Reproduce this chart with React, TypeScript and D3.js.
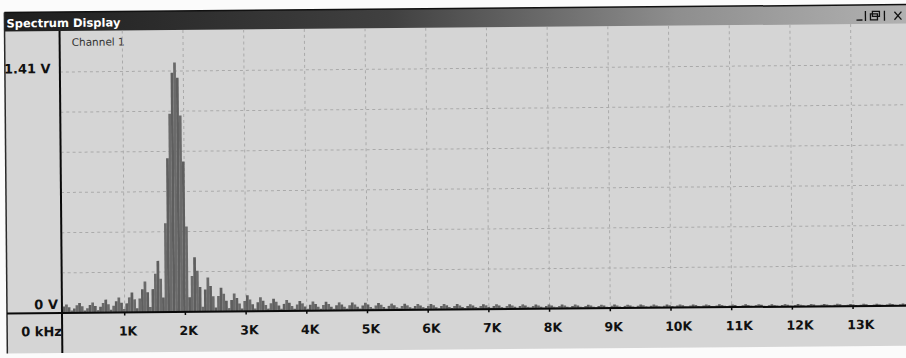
import React from "react";
import * as d3 from "d3";

// spectrum of one channel: FFT bins around a ~1.86 kHz carrier
const carrierKHz = 1.855;
const binKHz = 0.0432;
const firstBin = -45; // bin index of the first value below

// lower sidelobes, far -> near (each row: gap bin + 4 lobe bins), volts
const lowerSidebands = [
  [0.012, 0.022, 0.038, 0.05, 0.033],
  [0.014, 0.026, 0.044, 0.058, 0.038],
  [0.014, 0.027, 0.045, 0.06, 0.039],
  [0.015, 0.034, 0.057, 0.076, 0.049],
  [0.017, 0.04, 0.066, 0.088, 0.057],
  [0.02, 0.053, 0.088, 0.117, 0.076],
  [0.024, 0.081, 0.135, 0.18, 0.117],
  [0.03, 0.135, 0.225, 0.3, 0.195],
];

// main lobe, bins -5..5
const mainLobe = [0.085, 0.52, 0.9, 1.16, 1.4, 1.46, 1.37, 1.15, 0.88, 0.5, 0.085];

// upper sidelobes, near -> far (each row: 4 lobe bins + gap bin), volts
const upperSidebands = [
  [0.21, 0.32, 0.24, 0.145, 0.03],
  [0.13, 0.2, 0.15, 0.09, 0.024],
  [0.091, 0.14, 0.105, 0.063, 0.02],
  [0.068, 0.105, 0.079, 0.047, 0.017],
  [0.061, 0.094, 0.07, 0.042, 0.016],
  [0.053, 0.082, 0.062, 0.037, 0.015],
  [0.047, 0.073, 0.055, 0.033, 0.014],
  [0.042, 0.064, 0.048, 0.029, 0.013],
  [0.038, 0.058, 0.044, 0.026, 0.012],
  [0.035, 0.054, 0.04, 0.024, 0.012],
  [0.034, 0.052, 0.039, 0.023, 0.011],
  [0.031, 0.048, 0.036, 0.022, 0.011],
  [0.031, 0.047, 0.035, 0.021, 0.011],
  [0.029, 0.045, 0.034, 0.02, 0.01],
  [0.028, 0.043, 0.032, 0.019, 0.01],
  [0.025, 0.038, 0.029, 0.017, 0.01],
  [0.023, 0.036, 0.027, 0.016, 0.01],
  [0.023, 0.035, 0.026, 0.016, 0.01],
  [0.022, 0.034, 0.026, 0.015, 0.009],
  [0.021, 0.033, 0.025, 0.015, 0.009],
  [0.021, 0.032, 0.024, 0.014, 0.009],
  [0.02, 0.031, 0.023, 0.014, 0.009],
  [0.02, 0.03, 0.023, 0.014, 0.009],
  [0.019, 0.029, 0.022, 0.013, 0.008],
  [0.018, 0.028, 0.021, 0.013, 0.008],
  [0.018, 0.027, 0.02, 0.012, 0.008],
  [0.017, 0.026, 0.02, 0.012, 0.008],
  [0.016, 0.025, 0.019, 0.011, 0.008],
  [0.016, 0.024, 0.018, 0.011, 0.007],
  [0.015, 0.023, 0.017, 0.01, 0.007],
  [0.014, 0.022, 0.017, 0.01, 0.007],
  [0.014, 0.021, 0.016, 0.009, 0.007],
  [0.014, 0.021, 0.016, 0.009, 0.007],
  [0.013, 0.02, 0.015, 0.009, 0.006],
  [0.013, 0.02, 0.015, 0.009, 0.006],
  [0.012, 0.019, 0.014, 0.009, 0.006],
  [0.012, 0.019, 0.014, 0.009, 0.006],
  [0.012, 0.018, 0.014, 0.008, 0.006],
  [0.012, 0.018, 0.014, 0.008, 0.006],
  [0.011, 0.017, 0.013, 0.008, 0.006],
  [0.011, 0.017, 0.013, 0.008, 0.006],
  [0.01, 0.016, 0.012, 0.007, 0.005],
  [0.01, 0.016, 0.012, 0.007, 0.005],
  [0.01, 0.016, 0.012, 0.007, 0.005],
  [0.01, 0.015, 0.011, 0.007, 0.005],
  [0.01, 0.015, 0.011, 0.007, 0.005],
  [0.01, 0.015, 0.011, 0.007, 0.005],
  [0.009, 0.014, 0.011, 0.006, 0.005],
  [0.009, 0.014, 0.011, 0.006, 0.005],
  [0.009, 0.014, 0.011, 0.006, 0.005],
  [0.008, 0.013, 0.01, 0.006, 0.004],
  [0.008, 0.013, 0.01, 0.006, 0.004],
  [0.008, 0.013, 0.01, 0.006, 0.004],
  [0.008, 0.013, 0.01, 0.006, 0.004],
  [0.008, 0.013, 0.01, 0.006, 0.004],
];

const tickKHz = [1, 2, 3, 4, 5, 6, 7, 8, 9, 10, 11, 12, 13];
const tickLabels = ["1K", "2K", "3K", "4K", "5K", "6K", "7K", "8K", "9K", "10K", "11K", "12K", "13K"];
const gridKHz = [1, 2, 3, 4, 5, 6, 7, 8, 9, 10, 11, 12, 13, 14];
const gridVolts = [0.235, 0.47, 0.705, 0.94, 1.175, 1.41];
const topVolts = 1.41;

const W = 906;
const H = 358;

export default function App() {
  const axisX = 62;
  const baseY = 313;
  const winLeft = 7;
  const winTop = 12;
  const winBottom = 353;
  const titleH = 19;

  const x = d3.scaleLinear().domain([0, 14]).range([64, 64 + 14 * 60.7]);
  const y = d3.scaleLinear().domain([0, topVolts]).range([baseY, 72]);

  const values = [...lowerSidebands.flat(), ...mainLobe, ...upperSidebands.flat()];
  const bins = values.map((v, j) => ({ f: carrierKHz + (firstBin + j) * binKHz, v }));
  const bw = x(binKHz) - x(0);

  const font = "'DejaVu Sans', Verdana, sans-serif";

  return (
    <svg
      width={W}
      height={H}
      style={{ position: "absolute", left: 0, top: 0, background: "#fbfbfb" }}
    >
      <defs>
        <linearGradient id="title" x1="0" x2="1" y1="0" y2="0">
          <stop offset="0" stopColor="#1e1e1e" />
          <stop offset="0.4" stopColor="#404040" />
          <stop offset="0.7" stopColor="#8e8e8e" />
          <stop offset="1" stopColor="#bababa" />
        </linearGradient>
        <clipPath id="plot">
          <rect x={axisX + 1} y={winTop + titleH} width={900} height={baseY - winTop - titleH} />
        </clipPath>
      </defs>

      {/* scanned page is slightly rotated */}
      <g transform={`rotate(-0.5 ${axisX} ${baseY})`}>
        <rect x={winLeft} y={winTop} width={960} height={winBottom - winTop} fill="#d5d5d5" />
        <rect x={winLeft} y={winTop} width={960} height={titleH} fill="url(#title)" />
        <line x1={winLeft} x2={970} y1={winTop} y2={winTop} stroke="#111" strokeWidth={1.5} />
        <line x1={winLeft} x2={winLeft} y1={winTop} y2={winBottom} stroke="#2a2a2a" strokeWidth={1.5} />

        <text x={9} y={27} fill="#fff" fontFamily={font} fontWeight="bold" fontSize={11.5}>
          Spectrum Display
        </text>

        {/* window buttons */}
        <g stroke="#111" fill="none" strokeWidth={1.3}>
          <line x1={859} x2={865} y1={27} y2={27} />
          <line x1={868} x2={868} y1={18} y2={28} />
          <rect x={873} y={21} width={7} height={6} />
          <rect x={875} y={18.5} width={7} height={5} />
          <line x1={887} x2={887} y1={18} y2={28} />
          <path d="M897,19 L904,27 M904,19 L897,27" />
        </g>

        <text x={74} y={46} fill="#333" fontFamily={font} fontSize={10.5}>
          Channel 1
        </text>

        <g clipPath="url(#plot)">
          {gridKHz.map((k) => (
            <line
              key={"gx" + k}
              x1={x(k)}
              x2={x(k)}
              y1={winTop + titleH}
              y2={baseY}
              stroke="#aaaaaa"
              strokeWidth={1}
              strokeDasharray="3 3"
            />
          ))}
          {gridVolts.map((v) => (
            <line
              key={"gy" + v}
              x1={axisX}
              x2={960}
              y1={y(v)}
              y2={y(v)}
              stroke="#aaaaaa"
              strokeWidth={1}
              strokeDasharray="3 3"
            />
          ))}
          {bins.map((d, i) => (
            <rect
              key={i}
              x={x(d.f) - bw / 2}
              width={bw + 0.1}
              y={y(d.v)}
              height={baseY - y(d.v)}
              fill={i % 2 ? "#6a6a6a" : "#5e5e5e"}
            />
          ))}
        </g>

        {/* axes */}
        <line x1={axisX} x2={axisX} y1={winTop + titleH} y2={winBottom} stroke="#0a0a0a" strokeWidth={2} />
        <line x1={winLeft} x2={970} y1={baseY} y2={baseY} stroke="#0a0a0a" strokeWidth={2} />
        {tickKHz.map((k, i) => (
          <g key={"t" + k}>
            <line x1={x(k)} x2={x(k)} y1={baseY} y2={baseY + 3} stroke="#0a0a0a" strokeWidth={1.5} />
            <text
              x={x(k) - 6}
              y={336}
              fill="#111"
              fontFamily={font}
              fontWeight="bold"
              fontSize={12.5}
            >
              {tickLabels[i]}
            </text>
          </g>
        ))}

        <text x={6} y={73} fill="#111" fontFamily={font} fontWeight="bold" fontSize={13}>
          1.41 V
        </text>
        <text x={58} y={309} textAnchor="end" fill="#111" fontFamily={font} fontWeight="bold" fontSize={13}>
          0 V
        </text>
        <text x={21} y={336} fill="#111" fontFamily={font} fontWeight="bold" fontSize={13}>
          0 kHz
        </text>
      </g>
    </svg>
  );
}
